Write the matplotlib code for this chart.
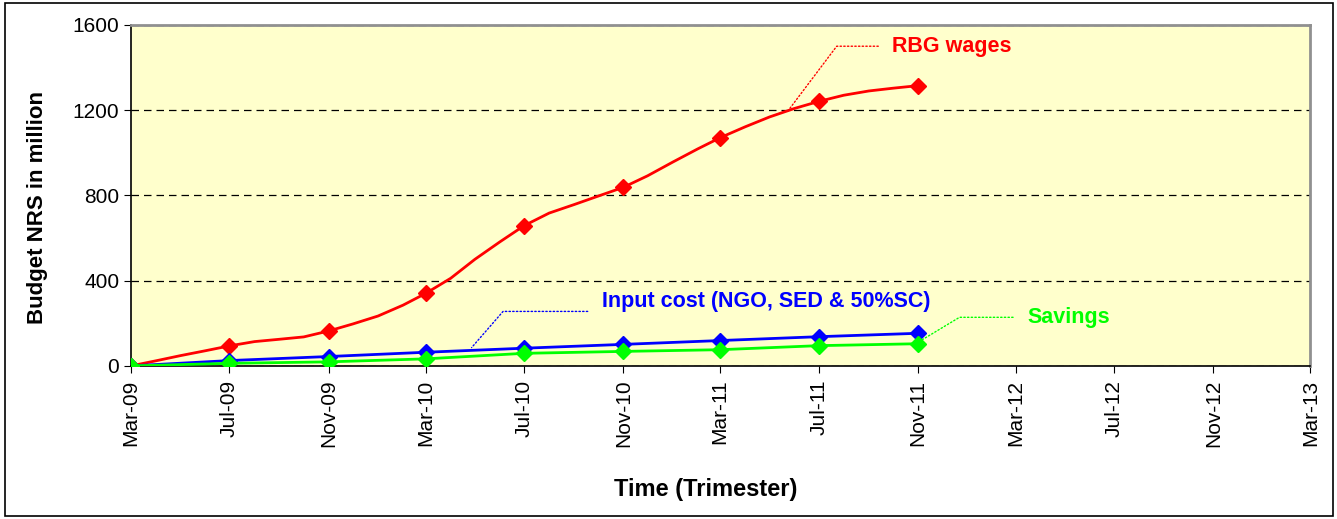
import matplotlib
matplotlib.use("Agg")
import matplotlib.pyplot as plt
import matplotlib.dates as mdates
from matplotlib.patches import Rectangle
from datetime import date

plt.rcParams['font.family'] = ['Liberation Sans', 'DejaVu Sans']

# Monthly data, Mar-09 .. Nov-11 (RBG wages), markers every trimester
months = [date(2009 + (2 + i) // 12, (2 + i) % 12 + 1, 1) for i in range(33)]
rbg_wages = [0, 24, 48, 71, 94, 114, 125, 136, 164, 197, 234, 285, 340,
             411, 500, 582, 658, 717, 757, 797, 838, 892, 956, 1018, 1071,
             1122, 1168, 1208, 1241, 1270, 1290, 1303, 1315]

# Trimester data
trimesters = months[::4]
input_cost = [0, 25, 44, 64, 83, 101, 119, 137, 153]
savings = [0, 12, 19, 33, 59, 68, 76, 95, 104]

red, blue, green = '#FF0000', '#0000FF', '#00FF00'

fig = plt.figure(figsize=(13.37, 5.19), dpi=100)
ax = fig.add_axes([0.098, 0.295, 0.882, 0.657])
ax.set_facecolor('#FFFFCC')

ax.plot(months, rbg_wages, color=red, lw=2, marker='D', markersize=8,
        markevery=4, zorder=3)
ax.plot(trimesters, input_cost, color=blue, lw=2, marker='D', markersize=8, zorder=4)
ax.plot(trimesters, savings, color=green, lw=2, marker='D', markersize=8, zorder=5)

ax.set_ylim(0, 1600)
ax.set_yticks([0, 400, 800, 1200, 1600])
ax.set_xlim(date(2009, 3, 1), date(2013, 3, 1))
ax.xaxis.set_major_locator(mdates.MonthLocator(bymonth=[3, 7, 11]))
ax.xaxis.set_major_formatter(mdates.DateFormatter('%b-%y'))
ax.tick_params(axis='x', labelrotation=90, labelsize=15, length=5, direction='out', pad=5)
ax.tick_params(axis='y', labelsize=15, length=5, direction='out')
ax.yaxis.grid(True, color='black', linestyle=(0, (6, 4)), lw=0.9)
ax.set_axisbelow(True)

for s in ['left', 'bottom']:
    ax.spines[s].set_color('black')
    ax.spines[s].set_linewidth(1.2)
for s in ['top', 'right']:
    ax.spines[s].set_color('#909090')
    ax.spines[s].set_linewidth(2)

ax.set_ylabel('Budget NRS in million', fontsize=16, fontweight='bold')
ax.set_xlabel('Time (Trimester)', fontsize=17, fontweight='bold')
ax.yaxis.set_label_coords(-0.070, 0.465)
ax.xaxis.set_label_coords(0.487, -0.329)

# Leader-line labels
ax.annotate('RBG wages', xy=(date(2011, 5, 22), 1187), xytext=(date(2011, 9, 30), 1500),
            color=red, fontsize=15.5, fontweight='bold', ha='left', va='center',
            arrowprops=dict(arrowstyle='-', color=red, lw=1, linestyle=':',
                            connectionstyle='angle,angleA=0,angleB=53', shrinkA=8, shrinkB=0))
ax.annotate('Input cost (NGO, SED & 50%SC)', xy=(date(2010, 4, 27), 86),
            xytext=(date(2010, 10, 5), 300),
            color=blue, fontsize=15.5, fontweight='bold', ha='left', va='center',
            arrowprops=dict(arrowstyle='-', color=blue, lw=1, linestyle=':', relpos=(0, 0.05),
                            connectionstyle='angle,angleA=0,angleB=49', shrinkA=8, shrinkB=0))
ax.annotate('Savings', xy=(date(2011, 11, 5), 120), xytext=(date(2012, 3, 15), 228),
            color=green, fontsize=15.5, fontweight='bold', ha='left', va='center',
            arrowprops=dict(arrowstyle='-', color=green, lw=1, linestyle=':',
                            connectionstyle='angle,angleA=0,angleB=31', shrinkA=8, shrinkB=0))

fig.patches.append(Rectangle((0.004, 0.006), 0.993, 0.988, transform=fig.transFigure,
                             fill=False, edgecolor='black', lw=1.2))

fig.savefig('out.png', dpi=100)
